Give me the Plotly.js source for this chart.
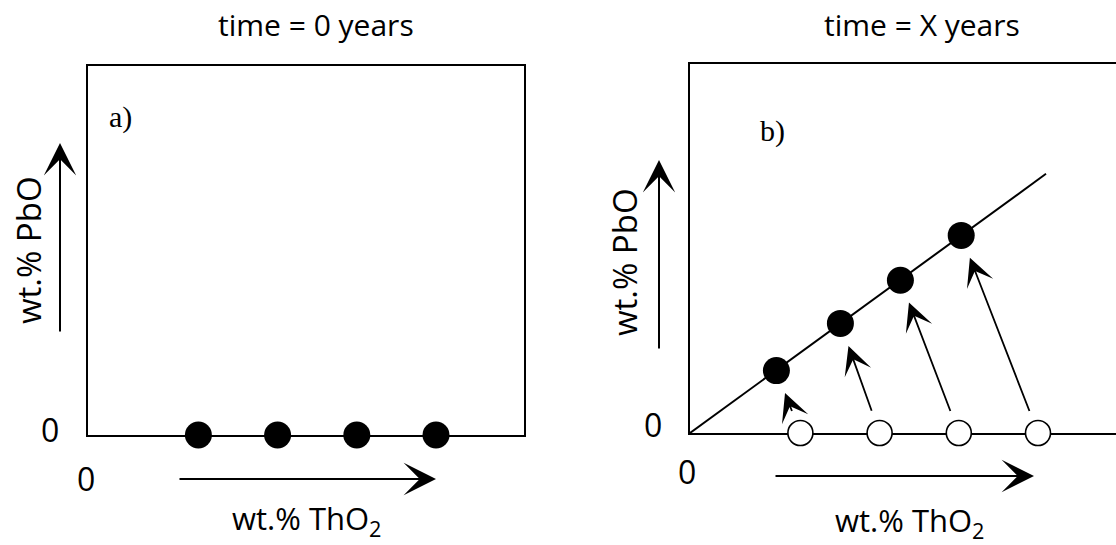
<!DOCTYPE html>
<html>
<head>
<meta charset="utf-8">
<script src="https://cdn.plot.ly/plotly-3.0.1.min.js"></script>
<style>
  html, body { margin: 0; padding: 0; background: #fff; }
  #chart { width: 1116px; height: 545px; }
</style>
</head>
<body>
<div id="chart"></div>
<script>
// ---- data (arbitrary units) ----
var panelTitles = ["time = 0 years", "time = X years"];
var panelTags = ["a)", "b)"];
var xAxisLabel = "wt.% ThO<sub>2</sub>";
var yAxisLabel = "wt.% PbO";
var originLabel = "0";

// initial compositions (no radiogenic Pb)
var thO2Initial = [1.38, 2.37, 3.36, 4.35];
var pbOInitial = [0, 0, 0, 0];
// compositions after X years
var thO2Final = [1.08, 1.88, 2.63, 3.39];
var pbOFinal = [0.78, 1.37, 1.91, 2.47];
// isochron
var isoX = [0, 4.45];
var isoY = [0, 3.24];

// ---- layout helpers (pixel -> paper) ----
var W = 1116, H = 545;
function px(x) { return x / W; }
function py(y) { return 1 - y / H; }

var FONT = "Open Sans, Noto Sans, DejaVu Sans, sans-serif";
var SERIF = "Liberation Serif, DejaVu Serif, serif";

var traces = [
  { x: thO2Initial, y: pbOInitial, xaxis: "x", yaxis: "y", type: "scatter", mode: "markers",
    cliponaxis: false, hoverinfo: "skip",
    marker: { color: "#000", size: 27, line: { width: 0 } } },
  { x: isoX, y: isoY, xaxis: "x2", yaxis: "y2", type: "scatter", mode: "lines",
    cliponaxis: false, hoverinfo: "skip",
    line: { color: "#000", width: 2 } },
  { x: thO2Initial, y: pbOInitial, xaxis: "x2", yaxis: "y2", type: "scatter", mode: "markers",
    cliponaxis: false, hoverinfo: "skip",
    marker: { color: "#fff", size: 25, line: { color: "#000", width: 1.6 } } },
  { x: thO2Final, y: pbOFinal, xaxis: "x2", yaxis: "y2", type: "scatter", mode: "markers",
    cliponaxis: false, hoverinfo: "skip",
    marker: { color: "#000", size: 27, line: { width: 0 } } }
];

function axisBase(domain, range, mirror) {
  return { domain: domain, range: range, showline: true, linecolor: "#000", linewidth: 2,
           mirror: mirror, showgrid: false, zeroline: false, showticklabels: false,
           ticks: "", fixedrange: true, layer: "below traces" };
}

var annotations = [];
function txt(text, x, y, size, family, angle) {
  annotations.push({ text: text, xref: "paper", yref: "paper", x: px(x), y: py(y),
    xanchor: "center", yanchor: "middle", showarrow: false, textangle: angle || 0,
    font: { family: family, size: size, color: "#000" } });
}
function arrowPx(x0, y0, x1, y1) {
  annotations.push({ text: "", xref: "paper", yref: "paper", x: px(x1), y: py(y1),
    axref: "pixel", ayref: "pixel", ax: x0 - x1, ay: y0 - y1, showarrow: true,
    arrowhead: 3, arrowsize: 2.7, arrowwidth: 2, arrowcolor: "#000" });
}

// titles and tags
txt(panelTitles[0], 316, 24, 30, FONT);
txt(panelTitles[1], 922, 24, 30, FONT);
txt(panelTags[0], 120, 117, 30, SERIF);
txt(panelTags[1], 772, 131, 30, SERIF);
// origin labels
txt(originLabel, 50, 429, 32, FONT);
txt(originLabel, 86, 478, 32, FONT);
txt(originLabel, 653, 424, 32, FONT);
txt(originLabel, 687, 471, 32, FONT);
// axis labels
txt(yAxisLabel, 28, 250, 33, FONT, -90);
txt(yAxisLabel, 624, 262, 33, FONT, -90);
txt(xAxisLabel, 307, 520, 31, FONT);
txt(xAxisLabel, 910, 522, 31, FONT);
// axis direction arrows
arrowPx(60, 333, 60, 143);
arrowPx(178, 479, 436, 479);
arrowPx(659, 350, 659, 160);
arrowPx(774, 476, 1034, 476);

// decay arrows: from initial (open) to final (filled) composition
for (var i = 0; i < thO2Initial.length; i++) {
  annotations.push({ text: "", xref: "x2", yref: "y2", axref: "x2", ayref: "y2",
    x: thO2Final[i], y: pbOFinal[i], ax: thO2Initial[i], ay: pbOInitial[i],
    showarrow: true, arrowhead: 3, arrowsize: 2.6, arrowwidth: 1.8, arrowcolor: "#000",
    standoff: 24, startstandoff: 22 });
}

var layout = {
  width: W, height: H,
  margin: { l: 0, r: 0, t: 0, b: 0 },
  paper_bgcolor: "#fff", plot_bgcolor: "rgba(0,0,0,0)",
  showlegend: false,
  xaxis: Object.assign(axisBase([px(88), px(524)], [0, 5.45], true), { anchor: "y" }),
  yaxis: Object.assign(axisBase([py(435), py(66)], [0, 4.6125], true), { anchor: "x" }),
  xaxis2: Object.assign(axisBase([px(690), 1], [0, 5.325], true), { anchor: "y2" }),
  yaxis2: Object.assign(axisBase([py(433), py(64)], [0, 4.6125], false), { anchor: "x2" }),
  annotations: annotations
};

Plotly.newPlot("chart", traces, layout, { staticPlot: true, displayModeBar: false });
</script>
</body>
</html>
